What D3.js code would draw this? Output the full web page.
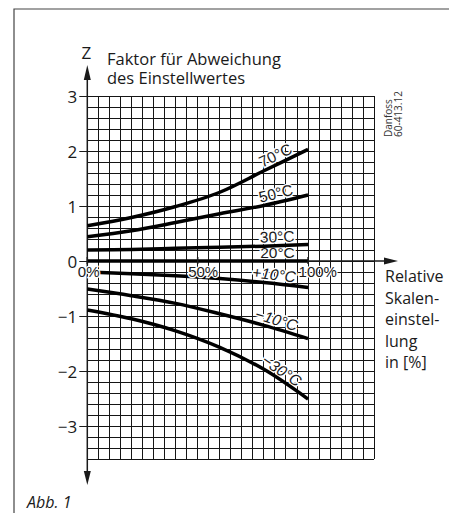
<!DOCTYPE html>
<html>
<head>
<meta charset="utf-8">
<script src="https://cdn.jsdelivr.net/npm/d3@7"></script>
<style>
	body { margin: 0; background: #fff; }
	svg { display: block; }
</style>
</head>
<body>
<div id="chartDiv"></div>
<script>
// relative scale setting [%] where the curves were read
var settings = [0, 20, 40, 60, 80, 100];

var seriesNames = ["70°C", "50°C", "30°C", "20°C", "+10°C", "−10°C", "−30°C"];
var z70 = [0.64, 0.79, 0.99, 1.25, 1.64, 2.03];
var z50 = [0.44, 0.55, 0.70, 0.86, 1.01, 1.20];
var z30 = [0.20, 0.21, 0.23, 0.25, 0.27, 0.30];
var z20 = [0, 0, 0, 0, 0, 0];
var zPlus10 = [-0.20, -0.23, -0.27, -0.32, -0.39, -0.48];
var zMinus10 = [-0.51, -0.63, -0.77, -0.96, -1.17, -1.41];
var zMinus30 = [-0.89, -1.05, -1.27, -1.57, -1.97, -2.51];
var italicNames = ["+10°C", "−10°C", "−30°C"];

var yTicks = [3, 2, 1, 0, -1, -2, -3];
var xTickValues = [0, 50, 100];
var xTickLabels = ["0%", "50%", "100%"];

var titleLines = ["Faktor für Abweichung", "des Einstellwertes"];
var xTitleLines = ["Relative", "Skalen-", "einstel-", "lung", "in [%]"];

;(function() {

	var width = 449;
	var height = 513;
	var plot = { left: 87.3, right: 374.3, top: 96, bottom: 459 };
	var xMax = 130;
	var zMin = -3.6, zMax = 3;
	var labelEnd = 94;
	var sans = "'Open Sans', 'Noto Sans', sans-serif";
	var helv = "'Liberation Sans', Arial, sans-serif";
	var ink = "#1a1a1a";

	var allSeries = [z70, z50, z30, z20, zPlus10, zMinus10, zMinus30];
	var series = seriesNames.map(function(name, i) {
		return { name: name, values: allSeries[i] };
	});

	var svg = d3.select("#chartDiv").append("svg")
		.attr("width", width)
		.attr("height", height);

	var x = d3.scaleLinear().domain([0, xMax]).range([plot.left, plot.right]);
	var y = d3.scaleLinear().domain([zMin, zMax]).range([plot.bottom, plot.top]);

	function zAt(values, p) {
		return d3.scaleLinear().domain(settings).range(values)(p);
	}

	// frame
	svg.append("path")
		.attr("d", "M14," + height + "V9H" + width)
		.attr("fill", "none")
		.attr("stroke", "#444")
		.attr("stroke-width", 1.2);

	// grid 5% x 0.2
	var grid = svg.append("g")
		.attr("stroke", "#151515")
		.attr("stroke-width", 1)
		.attr("shape-rendering", "crispEdges");

	grid.selectAll(".gx")
		.data(d3.range(0, xMax / 5 + 1).map(function(i) { return i * 5; }))
		.enter().append("line")
			.attr("x1", function(d) { return x(d); })
			.attr("x2", function(d) { return x(d); })
			.attr("y1", plot.top)
			.attr("y2", plot.bottom);

	grid.selectAll(".gy")
		.data(d3.range(0, 34).map(function(i) { return zMin + i * 0.2; }))
		.enter().append("line")
			.attr("x1", plot.left)
			.attr("x2", plot.right)
			.attr("y1", function(d) { return y(d); })
			.attr("y2", function(d) { return y(d); });

	// curve labels (drawn before curves, halo knocks out the grid)
	svg.append("g").selectAll("text")
		.data(series)
		.enter().append("text")
			.attr("transform", function(d) {
				var z = zAt(d.values, labelEnd);
				var dx = x(98) - x(82);
				var dy = y(zAt(d.values, 98)) - y(zAt(d.values, 82));
				var angle = Math.atan2(dy, dx) * 180 / Math.PI;
				return "translate(" + x(labelEnd) + "," + y(z) + ") rotate(" + angle + ")";
			})
			.attr("y", -3.5)
			.attr("text-anchor", "end")
			.attr("font-family", helv)
			.attr("font-size", 15.5)
			.attr("font-style", function(d) { return italicNames.indexOf(d.name) >= 0 ? "italic" : "normal"; })
			.attr("fill", ink)
			.attr("stroke", "#fff")
			.attr("stroke-width", 3)
			.attr("paint-order", "stroke")
			.text(function(d) { return d.name; });

	// x axis with arrow
	var y0 = y(0);
	svg.append("line")
		.attr("x1", plot.left).attr("x2", 386)
		.attr("y1", y0).attr("y2", y0)
		.attr("stroke", ink)
		.attr("stroke-width", 1.5);
	svg.append("path")
		.attr("d", "M398," + y0 + "L384," + (y0 - 3.5) + "L384," + (y0 + 3.5) + "Z")
		.attr("fill", ink);

	// y axis with arrows
	svg.append("line")
		.attr("x1", plot.left).attr("x2", plot.left)
		.attr("y1", 72).attr("y2", 478)
		.attr("stroke", ink)
		.attr("stroke-width", 1.5);
	svg.append("path")
		.attr("d", "M" + plot.left + ",65L" + (plot.left - 3.5) + ",80L" + (plot.left + 3.5) + ",80Z")
		.attr("fill", ink);
	svg.append("path")
		.attr("d", "M" + plot.left + ",485L" + (plot.left - 3.5) + ",471L" + (plot.left + 3.5) + ",471Z")
		.attr("fill", ink);

	// curves
	var line = d3.line()
		.x(function(d, i) { return x(settings[i]); })
		.y(function(d) { return y(d); })
		.curve(d3.curveCatmullRom.alpha(0.5));

	svg.append("g").selectAll("path")
		.data(series)
		.enter().append("path")
			.attr("d", function(d) { return line(d.values); })
			.attr("fill", "none")
			.attr("stroke", "#000")
			.attr("stroke-width", 3.5);

	// small ticks on the x axis
	svg.append("g").selectAll("line")
		.data(xTickValues)
		.enter().append("line")
			.attr("x1", function(d) { return x(d); })
			.attr("x2", function(d) { return x(d); })
			.attr("y1", y0 - 4)
			.attr("y2", y0 + 3)
			.attr("stroke", ink)
			.attr("stroke-width", 1.5);

	// percent labels
	svg.append("g").selectAll("text")
		.data(xTickValues)
		.enter().append("text")
			.attr("x", function(d) { return x(d) - 9.5; })
			.attr("y", y0 + 15.5)
			.attr("font-family", helv)
			.attr("font-size", 15)
			.attr("fill", ink)
			.attr("stroke", "#fff")
			.attr("stroke-width", 2.5)
			.attr("paint-order", "stroke")
			.text(function(d, i) { return xTickLabels[i]; });

	// y axis ticks and labels
	var yAxis = d3.axisLeft(y)
		.tickValues(yTicks)
		.tickSize(8)
		.tickPadding(2)
		.tickFormat(function(d) { return d < 0 ? "−" + Math.abs(d) : d; });

	svg.append("g")
		.attr("transform", "translate(" + plot.left + ",0)")
		.style("color", ink)
		.call(yAxis)
		.call(function(g) { g.select(".domain").remove(); })
		.call(function(g) {
			g.selectAll("text")
				.attr("font-family", sans)
				.attr("font-size", 17)
				.attr("dy", "0.36em");
		});

	// titles
	svg.append("text")
		.attr("x", plot.left - 1)
		.attr("y", 59)
		.attr("text-anchor", "middle")
		.attr("font-family", sans)
		.attr("font-size", 17)
		.attr("fill", ink)
		.text("Z");

	svg.append("text")
		.attr("font-family", sans)
		.attr("font-size", 16.5)
		.attr("fill", ink)
		.selectAll("tspan")
		.data(titleLines)
		.enter().append("tspan")
			.attr("x", 107)
			.attr("y", function(d, i) { return 65 + i * 18.5; })
			.text(function(d) { return d; });

	svg.append("text")
		.attr("font-family", sans)
		.attr("font-size", 16)
		.attr("fill", ink)
		.selectAll("tspan")
		.data(xTitleLines)
		.enter().append("tspan")
			.attr("x", 385)
			.attr("y", function(d, i) { return 282 + i * 21.6; })
			.text(function(d) { return d; });

	// drawing number
	svg.append("g").selectAll("text")
		.data(["Danfoss", "60-413.12"])
		.enter().append("text")
			.attr("transform", function(d, i) { return "translate(" + (392 + i * 10) + ",137) rotate(-90)"; })
			.attr("font-family", sans)
			.attr("font-size", 10)
			.attr("fill", "#333")
			.text(function(d) { return d; });

	svg.append("text")
		.attr("x", 27)
		.attr("y", 508)
		.attr("font-family", sans)
		.attr("font-size", 16)
		.attr("font-style", "italic")
		.attr("fill", ink)
		.text("Abb. 1");

})();
</script>
</body>
</html>
